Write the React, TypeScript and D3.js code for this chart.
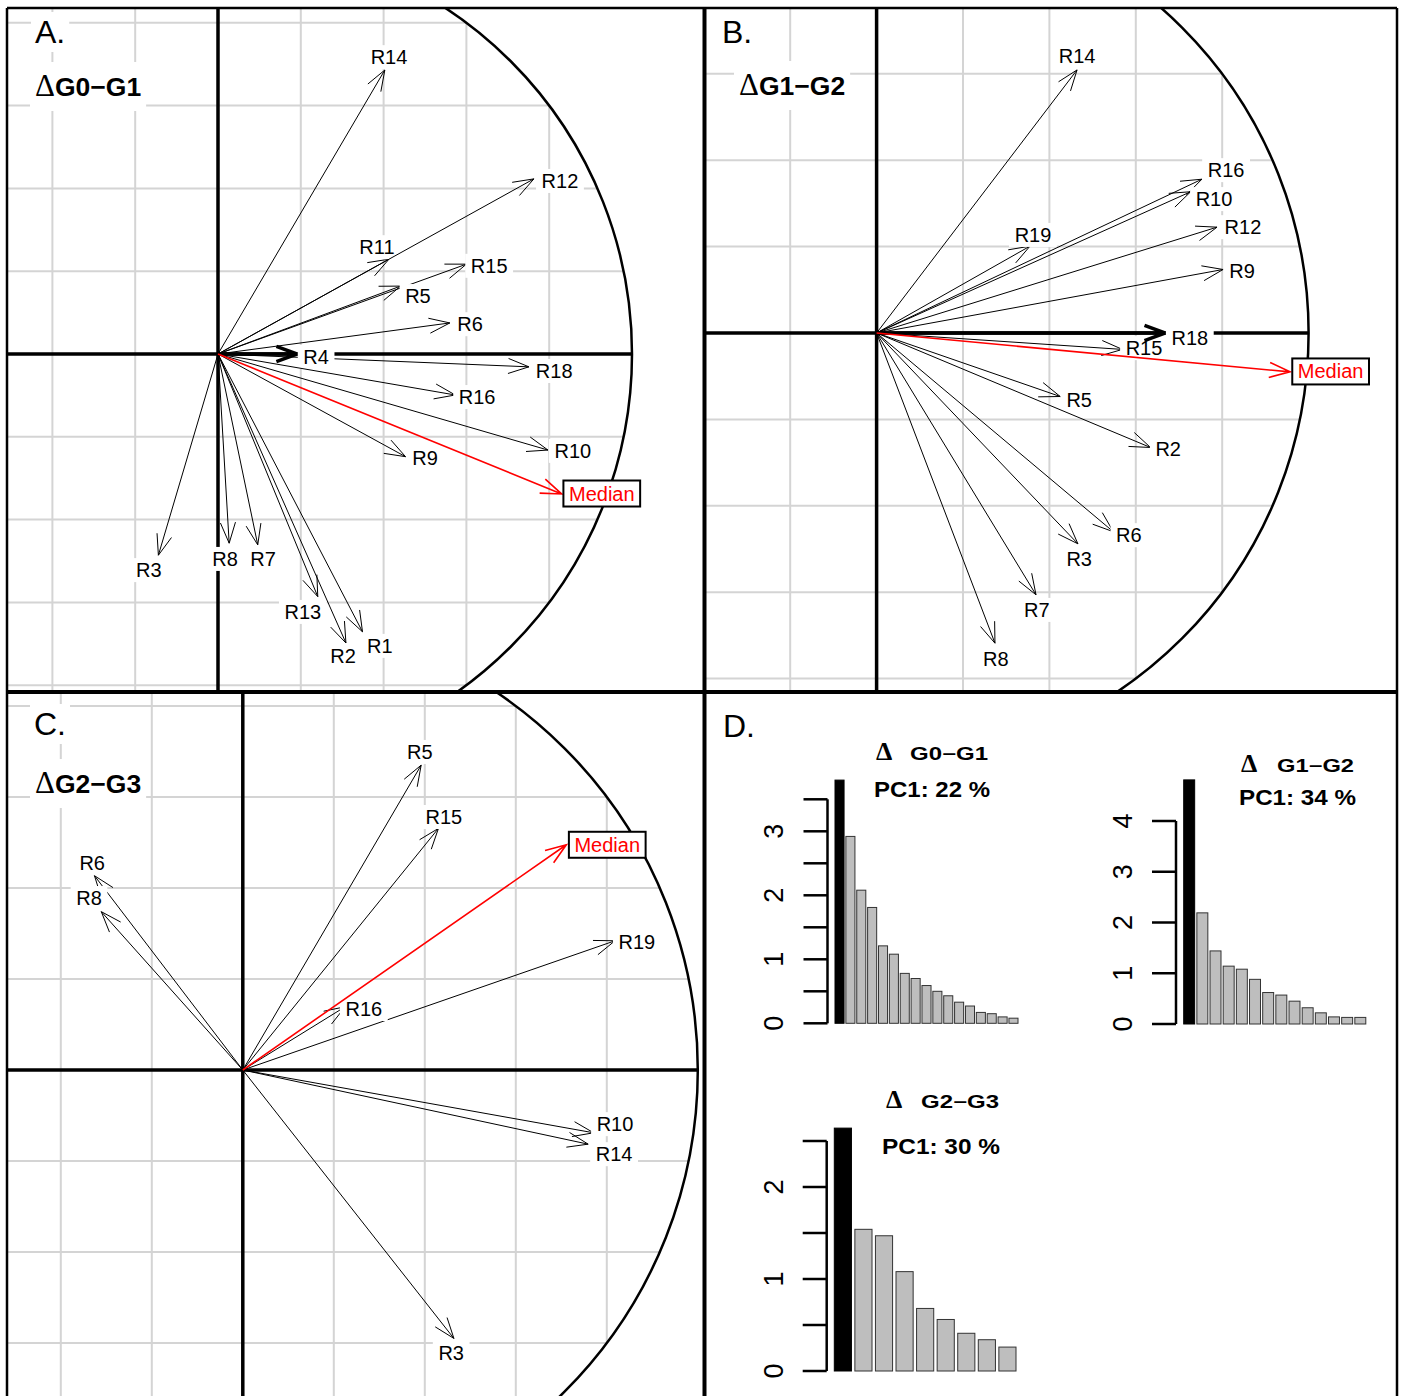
import React, { useEffect, useRef } from 'react';
import * as d3 from 'd3';

// ---------- values ----------
// loadings on the correlation circle (unit = circle radius); lx/ly = label centre
const loadingsG0G1 = [
  { name: 'R14', x: 0.403, y: 0.686, lx: 0.413, ly: 0.717 },
  { name: 'R15', x: 0.600, y: 0.217, lx: 0.655, ly: 0.213 },
  { name: 'R11', x: 0.413, y: 0.229, lx: 0.384, ly: 0.258 },
  { name: 'R5', x: 0.441, y: 0.164, lx: 0.483, ly: 0.140 },
  { name: 'R12', x: 0.763, y: 0.423, lx: 0.826, ly: 0.418 },
  { name: 'R6', x: 0.560, y: 0.075, lx: 0.609, ly: 0.072 },
  { name: 'R18', x: 0.751, y: -0.031, lx: 0.812, ly: -0.041 },
  { name: 'R4', x: 0.191, y: 0.0, lx: 0.237, ly: -0.007 },
  { name: 'R16', x: 0.573, y: -0.099, lx: 0.626, ly: -0.104 },
  { name: 'R10', x: 0.797, y: -0.232, lx: 0.857, ly: -0.234 },
  { name: 'R9', x: 0.453, y: -0.248, lx: 0.500, ly: -0.251 },
  { name: 'R3', x: -0.144, y: -0.486, lx: -0.167, ly: -0.522 },
  { name: 'R8', x: 0.027, y: -0.457, lx: 0.017, ly: -0.495 },
  { name: 'R7', x: 0.096, y: -0.461, lx: 0.109, ly: -0.495 },
  { name: 'R13', x: 0.241, y: -0.586, lx: 0.205, ly: -0.623 },
  { name: 'R2', x: 0.309, y: -0.698, lx: 0.302, ly: -0.729 },
  { name: 'R1', x: 0.349, y: -0.671, lx: 0.391, ly: -0.705 },
];
const medianG0G1 = { x: 0.830, y: -0.338, lx: 0.927, ly: -0.337 };

const loadingsG1G2 = [
  { name: 'R14', x: 0.464, y: 0.609, lx: 0.464, ly: 0.641 },
  { name: 'R19', x: 0.355, y: 0.201, lx: 0.362, ly: 0.227 },
  { name: 'R16', x: 0.753, y: 0.356, lx: 0.809, ly: 0.377 },
  { name: 'R10', x: 0.727, y: 0.327, lx: 0.781, ly: 0.310 },
  { name: 'R12', x: 0.788, y: 0.245, lx: 0.848, ly: 0.245 },
  { name: 'R9', x: 0.802, y: 0.147, lx: 0.846, ly: 0.144 },
  { name: 'R15', x: 0.569, y: -0.038, lx: 0.619, ly: -0.035 },
  { name: 'R18', x: 0.668, y: 0.0, lx: 0.725, ly: -0.012 },
  { name: 'R5', x: 0.425, y: -0.147, lx: 0.469, ly: -0.155 },
  { name: 'R2', x: 0.634, y: -0.265, lx: 0.675, ly: -0.269 },
  { name: 'R6', x: 0.548, y: -0.460, lx: 0.584, ly: -0.468 },
  { name: 'R3', x: 0.466, y: -0.488, lx: 0.469, ly: -0.523 },
  { name: 'R7', x: 0.369, y: -0.606, lx: 0.371, ly: -0.641 },
  { name: 'R8', x: 0.274, y: -0.718, lx: 0.276, ly: -0.755 },
];
const medianG1G2 = { x: 0.957, y: -0.090, lx: 1.051, ly: -0.089 };

const loadingsG2G3 = [
  { name: 'R6', x: -0.326, y: 0.427, lx: -0.331, ly: 0.455 },
  { name: 'R8', x: -0.311, y: 0.348, lx: -0.338, ly: 0.378 },
  { name: 'R5', x: 0.392, y: 0.670, lx: 0.389, ly: 0.699 },
  { name: 'R15', x: 0.430, y: 0.531, lx: 0.442, ly: 0.556 },
  { name: 'R19', x: 0.818, y: 0.284, lx: 0.866, ly: 0.281 },
  { name: 'R16', x: 0.225, y: 0.139, lx: 0.266, ly: 0.134 },
  { name: 'R10', x: 0.771, y: -0.138, lx: 0.818, ly: -0.119 },
  { name: 'R14', x: 0.759, y: -0.163, lx: 0.816, ly: -0.185 },
  { name: 'R3', x: 0.464, y: -0.590, lx: 0.458, ly: -0.622 },
];
const medianG2G3 = { x: 0.711, y: 0.495, lx: 0.801, ly: 0.495 };

// eigenvalues (scree plots)
const eigenG0G1 = [3.80, 2.92, 2.08, 1.81, 1.21, 1.08, 0.78, 0.70, 0.59, 0.50, 0.43, 0.33, 0.27, 0.17, 0.15, 0.10, 0.08];
const eigenG1G2 = [4.81, 2.19, 1.44, 1.14, 1.08, 0.88, 0.62, 0.57, 0.45, 0.32, 0.22, 0.14, 0.13, 0.13];
const eigenG2G3 = [2.64, 1.54, 1.47, 1.08, 0.68, 0.56, 0.41, 0.34, 0.26];

const panelLetters = ['A.', 'B.', 'C.', 'D.'];
const contrasts = ['G0\u2212G1', 'G1\u2212G2', 'G2\u2212G3'];
const pc1Labels = ['PC1: 22 %', 'PC1: 34 %', 'PC1: 30 %'];

// ---------- layout ----------
const W = 1401;
const H = 1396;
const SANS = "'Liberation Sans', Arial, sans-serif";
const SERIF = "'Liberation Serif', 'Times New Roman', serif";

const circleLayout = [
  { clip: [7, 8, 697, 684], ox: 218, oy: 354, r: 414, letter: [35, 43], title: [35, 96], heavy: ['R4'] },
  { clip: [704, 8, 693, 684], ox: 876.6, oy: 333, r: 432, letter: [722, 43], title: [739, 95], heavy: ['R18'] },
  { clip: [7, 692, 697, 704], ox: 242.8, oy: 1070, r: 455, letter: [34, 735], title: [35, 793], heavy: [] as string[] },
];

const screeLayout = [
  { x0: 835, x1: 1018, y0: 1023.3, yTop: 799.3, max: 3.5, step: 0.5, axisX: 827.5, labelX: 774,
    delta: [876, 760], title: [910, 760, 78], pc: [874, 797, 116] },
  { x0: 1183.7, x1: 1365.8, y0: 1024, yTop: 821, max: 4, step: 1, axisX: 1176, labelX: 1123,
    delta: [1241, 772], title: [1277, 772, 77], pc: [1239, 805, 117] },
  { x0: 834.3, x1: 1016, y0: 1371, yTop: 1141, max: 2.5, step: 0.5, axisX: 826.7, labelX: 774,
    delta: [886, 1108], title: [921, 1108, 78], pc: [882, 1154, 118] },
];

const boxedLabel = (g, cx, cy, text, color = 'black', border = false) => {
  const size = 20;
  const box = g.append('rect');
  const t = g.append('text')
    .attr('x', cx).attr('y', cy).attr('dy', '0.35em')
    .attr('text-anchor', 'middle')
    .attr('font-family', SANS).attr('font-size', size)
    .attr('fill', color)
    .text(text);
  const w = (t.node() as SVGTextElement).getComputedTextLength();
  const pad = 0.278 * size;
  const h = border ? 13 : 12;
  box.attr('x', cx - w / 2 - pad).attr('y', cy - h)
    .attr('width', w + 2 * pad).attr('height', 2 * h)
    .attr('fill', 'white')
    .attr('stroke', border ? 'black' : 'none')
    .attr('stroke-width', 2);
};

const arrowPath = (ox, oy, tx, ty) => {
  const len = 22;
  const ang = (20 * Math.PI) / 180;
  const a = Math.atan2(oy - ty, ox - tx);
  const h1 = [tx + len * Math.cos(a - ang), ty + len * Math.sin(a - ang)];
  const h2 = [tx + len * Math.cos(a + ang), ty + len * Math.sin(a + ang)];
  return `M${ox},${oy}L${tx},${ty}M${h1[0]},${h1[1]}L${tx},${ty}L${h2[0]},${h2[1]}`;
};

const drawCircle = (svg, i, loadings, median) => {
  const L = circleLayout[i];
  const x = d3.scaleLinear().domain([-1, 1]).range([L.ox - L.r, L.ox + L.r]);
  const y = d3.scaleLinear().domain([-1, 1]).range([L.oy + L.r, L.oy - L.r]);

  const id = `clip-${i}`;
  svg.append('clipPath').attr('id', id)
    .append('rect')
    .attr('x', L.clip[0]).attr('y', L.clip[1]).attr('width', L.clip[2]).attr('height', L.clip[3]);
  const g = svg.append('g').attr('clip-path', `url(#${id})`);

  // grid, clipped to the circle
  const levels = d3.range(-4, 5).filter(k => k !== 0).map(k => k / 5);
  g.append('g').selectAll('line.h').data(levels).join('line')
    .attr('x1', v => x(-Math.sqrt(1 - v * v))).attr('x2', v => x(Math.sqrt(1 - v * v)))
    .attr('y1', v => y(v)).attr('y2', v => y(v))
    .attr('stroke', '#d4d4d4').attr('stroke-width', 2);
  g.append('g').selectAll('line.v').data(levels).join('line')
    .attr('y1', v => y(-Math.sqrt(1 - v * v))).attr('y2', v => y(Math.sqrt(1 - v * v)))
    .attr('x1', v => x(v)).attr('x2', v => x(v))
    .attr('stroke', '#d4d4d4').attr('stroke-width', 2);

  // axes and circle
  g.append('line').attr('x1', x(-1)).attr('x2', x(1)).attr('y1', y(0)).attr('y2', y(0))
    .attr('stroke', 'black').attr('stroke-width', 3.5);
  g.append('line').attr('x1', x(0)).attr('x2', x(0)).attr('y1', y(-1)).attr('y2', y(1))
    .attr('stroke', 'black').attr('stroke-width', 3.5);
  g.append('circle').attr('cx', x(0)).attr('cy', y(0)).attr('r', x(1) - x(0))
    .attr('fill', 'none').attr('stroke', 'black').attr('stroke-width', 2.5);

  // title boxes
  const letter = g.append('g');
  const lt = letter.append('text').attr('x', L.letter[0]).attr('y', L.letter[1])
    .attr('font-family', SANS).attr('font-size', 32).text(panelLetters[i]);
  const lb = (lt.node() as SVGTextElement).getBBox();
  letter.insert('rect', 'text').attr('x', lb.x - 4).attr('y', lb.y - 2)
    .attr('width', lb.width + 8).attr('height', lb.height + 4).attr('fill', 'white');

  const title = g.append('g');
  const tt = title.append('text').attr('x', L.title[0]).attr('y', L.title[1]);
  tt.append('tspan').attr('font-family', SERIF).attr('font-size', 31).text('\u0394');
  tt.append('tspan').attr('font-family', SANS).attr('font-weight', 'bold').attr('font-size', 26.5)
    .text(contrasts[i]);
  const tb = (tt.node() as SVGTextElement).getBBox();
  title.insert('rect', 'text').attr('x', tb.x - 5).attr('y', tb.y - 6)
    .attr('width', tb.width + 10).attr('height', tb.height + 14).attr('fill', 'white');

  // arrows with their boxed labels
  loadings.forEach(d => {
    g.append('path').attr('d', arrowPath(x(0), y(0), x(d.x), y(d.y)))
      .attr('fill', 'none').attr('stroke', 'black')
      .attr('stroke-width', L.heavy.includes(d.name) ? 3.5 : 1);
    boxedLabel(g, x(d.lx), y(d.ly), d.name);
  });

  g.append('path').attr('d', arrowPath(x(0), y(0), x(median.x), y(median.y)))
    .attr('fill', 'none').attr('stroke', 'red').attr('stroke-width', 1.6);
  boxedLabel(g, x(median.lx), y(median.ly), 'Median', 'red', true);
};

const drawScree = (svg, i, values) => {
  const L = screeLayout[i];
  const x = d3.scaleBand().domain(d3.range(values.length)).range([L.x0, L.x1]).paddingInner(1 / 6).paddingOuter(0);
  const y = d3.scaleLinear().domain([0, L.max]).range([L.y0, L.yTop]);
  const g = svg.append('g');

  g.selectAll('rect').data(values).join('rect')
    .attr('x', (d, k) => x(k)).attr('width', x.bandwidth())
    .attr('y', d => y(d)).attr('height', d => y(0) - y(d))
    .attr('fill', (d, k) => (k === 0 ? 'black' : '#bebebe'))
    .attr('stroke', (d, k) => (k === 0 ? 'black' : '#333'))
    .attr('stroke-width', 1);

  const ticks = d3.range(0, L.max + 1e-9, L.step);
  g.append('line').attr('x1', L.axisX).attr('x2', L.axisX).attr('y1', y(0)).attr('y2', y(L.max))
    .attr('stroke', 'black').attr('stroke-width', 2.5);
  g.selectAll('line.tick').data(ticks).join('line')
    .attr('class', 'tick')
    .attr('x1', L.axisX - 24).attr('x2', L.axisX).attr('y1', d => y(d)).attr('y2', d => y(d))
    .attr('stroke', 'black').attr('stroke-width', 2.5);
  g.selectAll('text.tl').data(ticks.filter(t => Number.isInteger(t))).join('text')
    .attr('class', 'tl')
    .attr('transform', d => `translate(${L.labelX},${y(d)}) rotate(-90)`)
    .attr('text-anchor', 'middle').attr('dy', '0.35em')
    .attr('font-family', SANS).attr('font-size', 27)
    .text(d => d);

  g.append('text').attr('x', L.delta[0]).attr('y', L.delta[1])
    .attr('font-family', SERIF).attr('font-weight', 'bold').attr('font-size', 26).text('\u0394');
  g.append('text').attr('x', L.title[0]).attr('y', L.title[1])
    .attr('font-family', SANS).attr('font-weight', 'bold').attr('font-size', 17.5)
    .attr('textLength', L.title[2]).attr('lengthAdjust', 'spacingAndGlyphs')
    .text(contrasts[i]);
  g.append('text').attr('x', L.pc[0]).attr('y', L.pc[1])
    .attr('font-family', SANS).attr('font-weight', 'bold').attr('font-size', 22)
    .attr('textLength', L.pc[2]).attr('lengthAdjust', 'spacingAndGlyphs')
    .text(pc1Labels[i]);
};

const App = () => {
  const ref = useRef(null);

  useEffect(() => {
    const svg = d3.select(ref.current);
    svg.selectAll('*').remove();

    svg.append('rect').attr('width', W).attr('height', H).attr('fill', 'white');

    drawCircle(svg, 0, loadingsG0G1, medianG0G1);
    drawCircle(svg, 1, loadingsG1G2, medianG1G2);
    drawCircle(svg, 2, loadingsG2G3, medianG2G3);

    svg.append('text').attr('x', 723).attr('y', 737)
      .attr('font-family', SANS).attr('font-size', 32).text(panelLetters[3]);
    drawScree(svg, 0, eigenG0G1);
    drawScree(svg, 1, eigenG1G2);
    drawScree(svg, 2, eigenG2G3);

    // frame and dividers
    const frame = [
      [7, 8, 1397, 8, 2.5],
      [7, 8, 7, H, 2.5],
      [1397, 8, 1397, H, 2.5],
      [704.5, 8, 704.5, H, 4],
      [7, 692, 1397, 692, 4],
    ];
    svg.append('g').selectAll('line').data(frame).join('line')
      .attr('x1', d => d[0]).attr('y1', d => d[1]).attr('x2', d => d[2]).attr('y2', d => d[3])
      .attr('stroke', 'black').attr('stroke-width', d => d[4]);
  }, []);

  return (
    <svg ref={ref} width={W} height={H}
      style={{ position: 'absolute', left: 0, top: 0, display: 'block' }} />
  );
};

export default App;
